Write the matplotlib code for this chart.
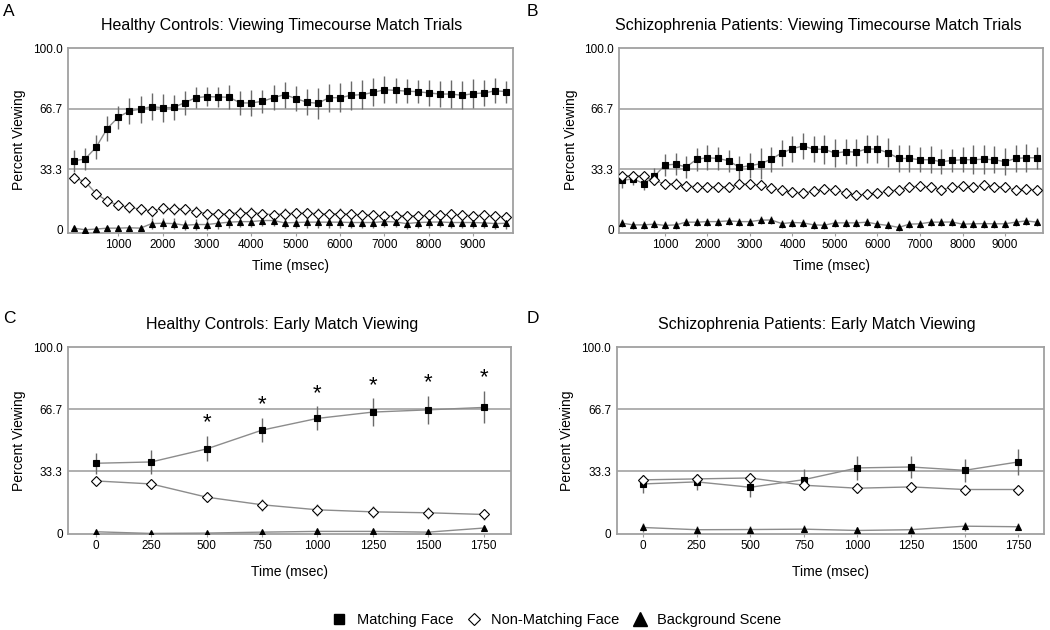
import matplotlib.pyplot as plt
from matplotlib.lines import Line2D

plt.rcParams['font.family'] = ['Liberation Sans', 'DejaVu Sans']

# time axis (msec)
time_long = [i * 250 for i in range(40)]
time_early = [0, 250, 500, 750, 1000, 1250, 1500, 1750]

# Panel A: healthy controls, full timecourse
hc_match = [38.0, 39.0, 45.5, 55.8, 62.1, 65.4, 66.5, 67.9, 67.2, 67.4,
            70.1, 72.8, 73.4, 73.2, 73.0, 69.9, 69.9, 70.8, 72.8, 74.5,
            72.3, 70.3, 69.7, 72.8, 72.8, 74.1, 74.5, 75.7, 77.2, 76.8,
            76.4, 76.1, 75.4, 74.8, 74.8, 74.1, 75.0, 75.4, 76.6, 76.1]
hc_match_err = [6.0, 5.8, 6.5, 6.7, 6.3, 7.2, 7.4, 7.5, 7.7, 6.7,
                6.6, 5.8, 5.3, 5.7, 6.6, 6.7, 7.1, 6.2, 6.8, 7.2,
                7.0, 7.2, 8.4, 7.7, 8.1, 7.9, 8.2, 7.7, 7.4, 7.1,
                6.8, 6.3, 7.0, 7.1, 7.5, 7.7, 7.9, 7.1, 6.8, 6.0]
hc_nonmatch = [28.6, 26.6, 19.9, 15.8, 13.6, 12.3, 11.4, 10.3, 11.8, 11.4,
               11.4, 10.0, 8.9, 8.7, 8.9, 9.4, 9.4, 8.9, 8.2, 8.9,
               9.1, 9.1, 8.9, 8.7, 8.9, 8.5, 8.2, 8.0, 7.6, 7.8,
               7.8, 7.6, 8.0, 8.0, 8.5, 8.0, 7.8, 8.0, 7.4, 7.1]
hc_nonmatch_err = [2.5, 2.5, 2.5, 2.5, 2.5, 2.8, 3.0, 3.0, 3.2, 3.2,
                   3.0, 3.0, 2.8, 2.8, 2.8, 3.0, 3.0, 2.8, 2.8, 3.0,
                   3.0, 3.0, 3.0, 3.0, 3.0, 3.0, 2.8, 2.8, 2.8, 2.8,
                   2.8, 2.8, 2.8, 2.8, 3.0, 2.8, 2.8, 2.8, 2.5, 2.5]
hc_bg = [0.9, 0.0, 0.4, 0.9, 0.9, 1.1, 0.9, 3.4, 3.6, 3.4,
         2.5, 2.9, 2.9, 3.6, 4.2, 4.5, 4.5, 5.1, 5.1, 3.8,
         4.0, 4.2, 4.2, 4.2, 4.2, 4.0, 4.0, 4.0, 4.5, 4.3,
         3.4, 4.0, 4.2, 4.3, 4.0, 4.0, 4.0, 3.8, 3.4, 3.6]
hc_bg_err = [1.0, 1.0, 1.0, 1.2, 1.2, 1.2, 1.2, 3.0, 3.0, 3.0,
             2.8, 3.0, 3.0, 3.0, 3.2, 3.2, 3.2, 3.2, 3.2, 3.0,
             3.0, 3.0, 3.0, 3.0, 3.0, 3.0, 3.0, 3.0, 3.0, 3.0,
             3.0, 3.0, 3.0, 3.0, 3.0, 3.0, 3.0, 3.0, 3.0, 3.0]

# Panel B: schizophrenia patients, full timecourse
sz_match = [27.2, 28.1, 25.4, 29.5, 35.7, 36.1, 34.6, 38.9, 39.7, 39.3,
            38.0, 34.4, 35.3, 36.4, 38.9, 42.4, 44.7, 46.2, 44.4, 44.4,
            42.2, 43.1, 42.8, 44.6, 44.4, 42.4, 39.3, 39.3, 38.6, 38.6,
            37.5, 38.2, 38.6, 38.6, 38.9, 38.6, 37.5, 39.3, 39.7, 39.7]
sz_match_err = [4.0, 3.6, 3.5, 4.5, 6.2, 6.0, 6.0, 6.3, 7.0, 6.4,
                6.0, 6.3, 6.8, 8.6, 6.8, 7.2, 7.2, 7.2, 7.2, 8.0,
                7.7, 7.0, 7.4, 7.8, 7.6, 8.0, 7.5, 7.6, 6.8, 7.3,
                6.8, 6.5, 7.0, 7.9, 7.9, 7.4, 7.5, 7.2, 7.7, 6.0]
sz_nonmatch = [29.5, 29.9, 29.5, 27.2, 25.2, 25.5, 24.1, 23.7, 23.4, 23.7,
               23.7, 25.2, 25.2, 24.5, 23.0, 21.7, 20.8, 20.3, 21.2, 22.6,
               21.9, 20.3, 19.0, 19.7, 20.1, 21.2, 22.1, 23.7, 23.9, 23.7,
               22.1, 23.4, 23.9, 23.4, 24.5, 23.7, 23.5, 21.9, 22.4, 21.9]
sz_nonmatch_err = [2.5] * 4 + [2.8] * 36
sz_bg = [3.6, 2.7, 2.7, 3.1, 2.4, 2.7, 4.2, 4.2, 4.5, 4.5,
         4.9, 4.5, 4.5, 5.3, 5.4, 3.4, 4.0, 3.8, 2.7, 2.5,
         3.8, 3.8, 3.8, 4.2, 3.1, 2.4, 1.3, 3.1, 3.3, 4.2,
         4.2, 4.3, 3.1, 3.3, 3.4, 3.3, 3.3, 4.2, 4.9, 4.2]
sz_bg_err = [2.2] * 40

# Panel C: healthy controls, early viewing
hc_early_match = [37.7, 38.4, 45.4, 55.5, 61.8, 65.2, 66.4, 67.7]
hc_early_match_err = [5.5, 6.3, 6.7, 6.6, 6.4, 7.3, 7.6, 8.6]
hc_early_nonmatch = [28.2, 26.6, 19.5, 15.4, 12.7, 11.6, 11.1, 10.2]
hc_early_nonmatch_err = [2.0, 2.8, 2.8, 3.3, 3.2, 3.2, 3.3, 3.1]
hc_early_bg = [0.9, 0.0, 0.2, 0.7, 1.1, 1.1, 0.7, 2.9]
hc_early_bg_err = [0.6, 0.4, 0.5, 0.8, 0.9, 0.9, 0.8, 1.8]
signif = [False, False, True, True, True, True, True, True]

# Panel D: schizophrenia patients, early viewing
sz_early_match = [26.6, 27.7, 24.8, 28.9, 35.2, 35.7, 33.9, 38.4]
sz_early_match_err = [5.0, 4.5, 5.0, 5.5, 6.3, 5.8, 6.0, 7.0]
sz_early_nonmatch = [28.8, 29.3, 29.8, 25.9, 24.3, 25.0, 23.6, 23.6]
sz_early_nonmatch_err = [2.5] * 8
sz_early_bg = [3.2, 2.0, 2.1, 2.3, 1.6, 2.0, 3.9, 3.6]
sz_early_bg_err = [2.5, 2.0, 2.0, 2.0, 2.0, 2.0, 2.5, 2.0]

W, H = 1050, 630
fig = plt.figure(figsize=(W / 100, H / 100), dpi=100)


def add_axes_px(left, top, right, bottom):
    return fig.add_axes([left / W, 1 - bottom / H, (right - left) / W, (bottom - top) / H])


def draw_series(ax, x, y, err, marker, ms, face):
    ax.errorbar(x, y, yerr=err, fmt='none', ecolor='#6a6a6a', elinewidth=1.0, capsize=0, zorder=2)
    ax.plot(x, y, color='#8c8c8c', lw=1.0, zorder=3)
    ax.plot(x, y, linestyle='none', marker=marker, ms=ms, mfc=face, mec='black', mew=0.8, zorder=4)


def style_axes(ax, xticks, xlim, ylim, labelpad):
    ax.set_xlim(*xlim)
    ax.set_ylim(*ylim)
    for y in (33.3, 66.7):
        ax.axhline(y, color='#9a9a9a', lw=1.1, zorder=1)
    for s in ax.spines.values():
        s.set_color('#a0a0a0')
        s.set_linewidth(1.3)
    ax.set_yticks([0, 33.3, 66.7, 100])
    ax.set_yticklabels(['0', '33.3', '66.7', '100.0'])
    ax.set_xticks(xticks)
    ax.tick_params(axis='y', length=0, pad=4, labelsize=8.5)
    ax.tick_params(axis='x', length=2, color='#a0a0a0', pad=2.5, labelsize=8.5)
    ax.set_xlabel('Time (msec)', fontsize=10, labelpad=labelpad)


long_ticks = list(range(1000, 10000, 1000))

axA = add_axes_px(68.3, 48.3, 513, 232.5)
draw_series(axA, time_long, hc_match, hc_match_err, 's', 4.3, 'black')
draw_series(axA, time_long, hc_nonmatch, hc_nonmatch_err, 'D', 4.8, 'white')
draw_series(axA, time_long, hc_bg, hc_bg_err, '^', 3.8, 'black')
style_axes(axA, long_ticks, (-128, 9898), (-1.5, 100), 6)

axB = add_axes_px(619.3, 48.3, 1043, 232.5)
draw_series(axB, time_long, sz_match, sz_match_err, 's', 4.3, 'black')
draw_series(axB, time_long, sz_nonmatch, sz_nonmatch_err, 'D', 4.8, 'white')
draw_series(axB, time_long, sz_bg, sz_bg_err, '^', 3.8, 'black')
style_axes(axB, long_ticks, (-75, 9894), (-1.5, 100), 6)

axC = add_axes_px(68.3, 347.3, 510.7, 534)
draw_series(axC, time_early, hc_early_match, hc_early_match_err, 's', 4.3, 'black')
draw_series(axC, time_early, hc_early_nonmatch, hc_early_nonmatch_err, 'D', 5.0, 'white')
draw_series(axC, time_early, hc_early_bg, hc_early_bg_err, '^', 3.8, 'black')
style_axes(axC, time_early, (-124, 1872), (-0.3, 100), 9.5)
for t, m, e, s in zip(time_early, hc_early_match, hc_early_match_err, signif):
    if s:
        axC.text(t, m + e + 1.5, '*', ha='center', va='bottom', fontsize=16)

axD = add_axes_px(616.7, 347.3, 1044, 534)
draw_series(axD, time_early, sz_early_match, sz_early_match_err, 's', 4.3, 'black')
draw_series(axD, time_early, sz_early_nonmatch, sz_early_nonmatch_err, 'D', 5.0, 'white')
draw_series(axD, time_early, sz_early_bg, sz_early_bg_err, '^', 3.8, 'black')
style_axes(axD, time_early, (-124, 1871), (-0.3, 100), 9.5)

# titles, panel letters, y labels
titles = [('Healthy Controls: Viewing Timecourse Match Trials', 282, 30),
          ('Schizophrenia Patients: Viewing Timecourse Match Trials', 818, 30),
          ('Healthy Controls: Early Match Viewing', 282, 329),
          ('Schizophrenia Patients: Early Match Viewing', 817, 329)]
for txt, x, y in titles:
    fig.text(x / W, 1 - y / H, txt, ha='center', va='baseline', fontsize=11.5)

for letter, x, y in [('A', 3, 16), ('B', 527, 16), ('C', 3, 323), ('D', 527, 323)]:
    fig.text(x / W, 1 - y / H, letter, ha='left', va='baseline', fontsize=12.5)

for x, y in [(19, 140), (571, 140), (19, 441), (567, 441)]:
    fig.text(x / W, 1 - y / H, 'Percent Viewing', rotation=90, ha='center', va='center', fontsize=10)

handles = [Line2D([], [], linestyle='none', marker='s', ms=6.5, mfc='black', mec='black'),
           Line2D([], [], linestyle='none', marker='D', ms=6.5, mfc='white', mec='black', mew=0.8),
           Line2D([], [], linestyle='none', marker='^', ms=10, mfc='black', mec='black')]
fig.legend(handles, ['Matching Face', 'Non-Matching Face', 'Background Scene'],
           loc='center', bbox_to_anchor=(556 / W, 1 - 620 / H), ncol=3, frameon=False,
           fontsize=10.5, handlelength=1.2, handletextpad=0.6, columnspacing=0.8)

fig.savefig('out.png', dpi=100)
